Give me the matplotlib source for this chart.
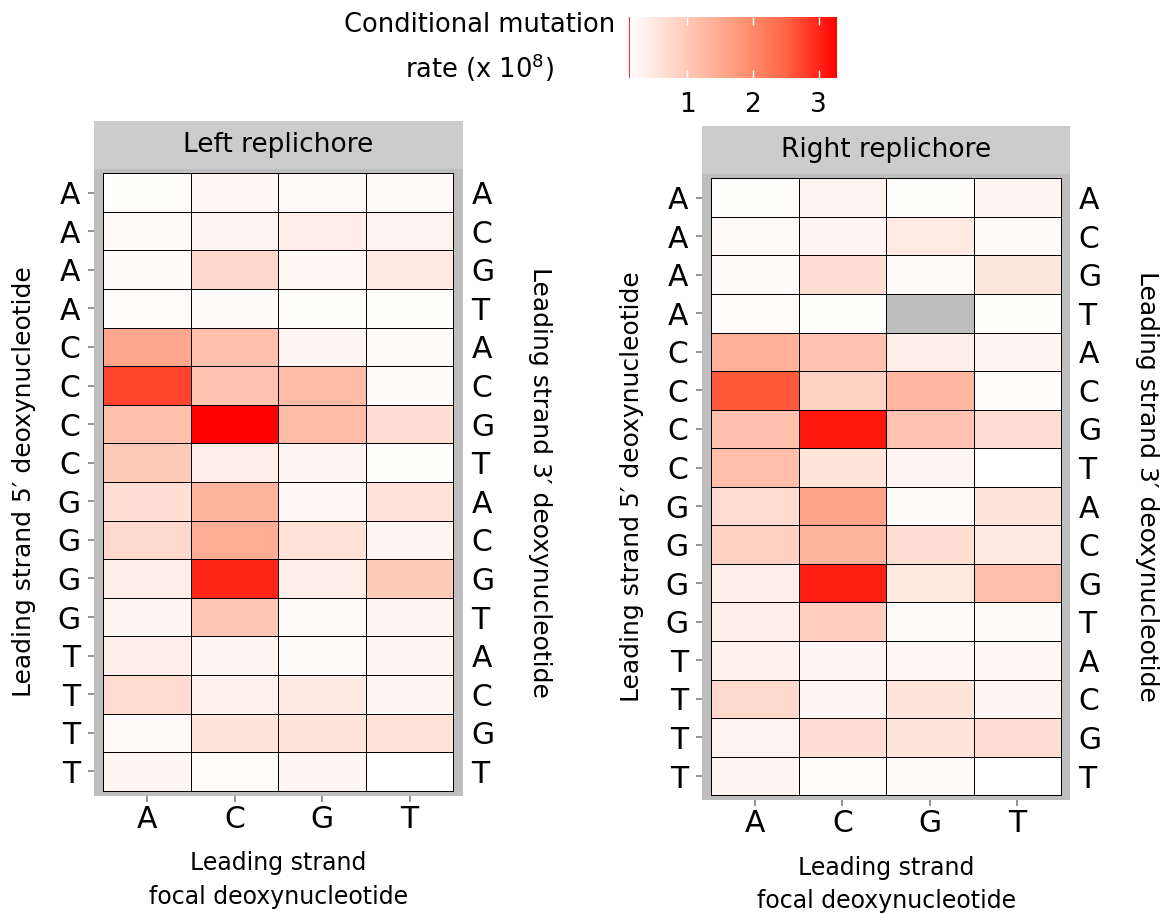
import numpy as np
import matplotlib
matplotlib.use('Agg')
import matplotlib.pyplot as plt
from matplotlib.colors import LinearSegmentedColormap, Normalize

nucleotides = ['A', 'C', 'G', 'T']
# row labels: 5' neighbour on the left side, 3' neighbour on the right side
five_prime = [n for n in nucleotides for _ in range(4)]
three_prime = nucleotides * 4

# conditional mutation rates (x 1e8); rows = 5'/3' context AA, AC, ... TT,
# columns = focal A, C, G, T
left_rates = [
    [0.15, 0.25, 0.22, 0.22],
    [0.22, 0.32, 0.42, 0.32],
    [0.18, 0.78, 0.25, 0.48],
    [0.16, 0.20, 0.15, 0.14],
    [1.55, 1.15, 0.28, 0.18],
    [2.75, 1.10, 1.20, 0.18],
    [1.15, 3.28, 1.20, 0.65],
    [1.00, 0.42, 0.28, 0.15],
    [0.65, 1.35, 0.24, 0.58],
    [0.75, 1.45, 0.62, 0.28],
    [0.42, 3.00, 0.42, 1.00],
    [0.30, 1.05, 0.18, 0.27],
    [0.40, 0.30, 0.18, 0.27],
    [0.72, 0.35, 0.48, 0.27],
    [0.22, 0.56, 0.56, 0.62],
    [0.26, 0.16, 0.26, 0.12],
]
right_rates = [
    [0.15, 0.32, 0.14, 0.27],
    [0.22, 0.27, 0.45, 0.20],
    [0.18, 0.65, 0.20, 0.52],
    [0.17, 0.14, np.nan, 0.14],
    [1.40, 1.10, 0.38, 0.27],
    [2.60, 0.85, 1.30, 0.17],
    [1.13, 3.10, 1.10, 0.68],
    [1.18, 0.55, 0.28, 0.115],
    [0.72, 1.60, 0.20, 0.55],
    [0.88, 1.35, 0.65, 0.48],
    [0.40, 3.05, 0.50, 1.18],
    [0.42, 0.92, 0.18, 0.20],
    [0.36, 0.28, 0.25, 0.25],
    [0.75, 0.27, 0.57, 0.27],
    [0.32, 0.65, 0.55, 0.65],
    [0.27, 0.17, 0.20, 0.13],
]

W, H = 1166, 914
fig = plt.figure(figsize=(W / 100, H / 100), dpi=100)
plt.rcParams['font.family'] = 'DejaVu Sans'

# white -> red ramp interpolated in Lab space
cmap = LinearSegmentedColormap.from_list('wr', [
    (0.0, '#FFFFFF'), (0.1, '#FFECE5'), (0.25, '#FFCFBF'),
    (0.5, '#FF9E81'), (0.75, '#FF6746'), (1.0, '#FF0000')])
cmap.set_bad('#BEBEBE')
all_rates = np.array(left_rates + right_rates, dtype=float)
norm = Normalize(vmin=np.nanmin(all_rates), vmax=np.nanmax(all_rates))

TICK_FS = 21.5
LAB_FS = 17


def px_axes(x0, y0, x1, y1):
    return fig.add_axes([x0 / W, 1 - y1 / H, (x1 - x0) / W, (y1 - y0) / H])


def fx(x):
    return x / W


def fy(y):
    return 1 - y / H


def draw_panel(rates, title, frame, strip_top, cells):
    x0, y0, x1, y1 = frame
    cx0, cy0, cx1, cy1 = cells
    ux = (cx1 - cx0) / 4
    uy = (cy1 - cy0) / 16

    ax = px_axes(x0, y0, x1, y1)
    ax.set_facecolor('#BEBEBE')
    data = np.ma.masked_invalid(np.array(rates, dtype=float))
    ax.pcolormesh(np.arange(5), np.arange(17), data, cmap=cmap, norm=norm,
                  edgecolors='black', linewidth=0.6)
    ax.set_xlim(-(cx0 - x0) / ux, 4 + (x1 - cx1) / ux)
    ax.set_ylim(16 + (y1 - cy1) / uy, -(cy0 - y0) / uy)
    for s in ax.spines.values():
        s.set_visible(False)
    ax.set_xticks(np.arange(4) + 0.5)
    ax.set_xticklabels(nucleotides)
    ax.set_yticks(np.arange(16) + 0.5)
    ax.set_yticklabels(five_prime)
    ax.tick_params(length=4.5, width=1.2, color='#808080', labelsize=TICK_FS,
                   pad=5.5)
    ax.tick_params(axis='x', pad=2)

    rax = ax.twinx()
    rax.set_ylim(ax.get_ylim())
    rax.set_yticks(np.arange(16) + 0.5)
    rax.set_yticklabels(three_prime)
    rax.tick_params(length=0, labelsize=TICK_FS, pad=6)
    for s in rax.spines.values():
        s.set_visible(False)

    sax = px_axes(x0, strip_top, x1, y0)
    sax.set_facecolor('#CCCCCC')
    sax.set_xticks([])
    sax.set_yticks([])
    for s in sax.spines.values():
        s.set_visible(False)
    sax.text(0.5, 0.5, title, ha='center', va='center', fontsize=19,
             transform=sax.transAxes)

    mid_x = (cx0 + cx1) / 2
    mid_y = (cy0 + cy1) / 2
    fig.text(fx(mid_x), fy(y1 + 84), 'Leading strand\nfocal deoxynucleotide',
             ha='center', va='center', fontsize=LAB_FS, linespacing=1.5)
    fig.text(fx(x0 - 70), fy(mid_y), 'Leading strand 5\u2032 deoxynucleotide',
             ha='center', va='center', rotation=90, fontsize=18)
    fig.text(fx(x1 + 77), fy(mid_y), 'Leading strand 3\u2032 deoxynucleotide',
             ha='center', va='center', rotation=-90, fontsize=18)


draw_panel(left_rates, 'Left replichore', (94, 169, 463, 796), 121,
           (103.3, 173.3, 453.3, 790.7))
draw_panel(right_rates, 'Right replichore', (702, 174, 1070, 800.3), 126,
           (711.3, 178.3, 1061, 795.3))

# colour legend
cax = px_axes(629, 17, 837, 78)
cb = fig.colorbar(plt.cm.ScalarMappable(norm=norm, cmap=cmap), cax=cax,
                  orientation='horizontal', ticks=[1, 2, 3])
cb.outline.set_visible(False)
cax.axvline(norm.vmin, color='red', lw=1.2)
cax.tick_params(direction='in', color='white', length=6, width=1,
                top=True, bottom=True, labelsize=19, pad=10)
fig.text(fx(480), fy(48), 'Conditional mutation\nrate (x 10$^{8}$)',
         ha='center', va='center', fontsize=18.5, linespacing=1.5)

fig.savefig('out.png', dpi=100)
